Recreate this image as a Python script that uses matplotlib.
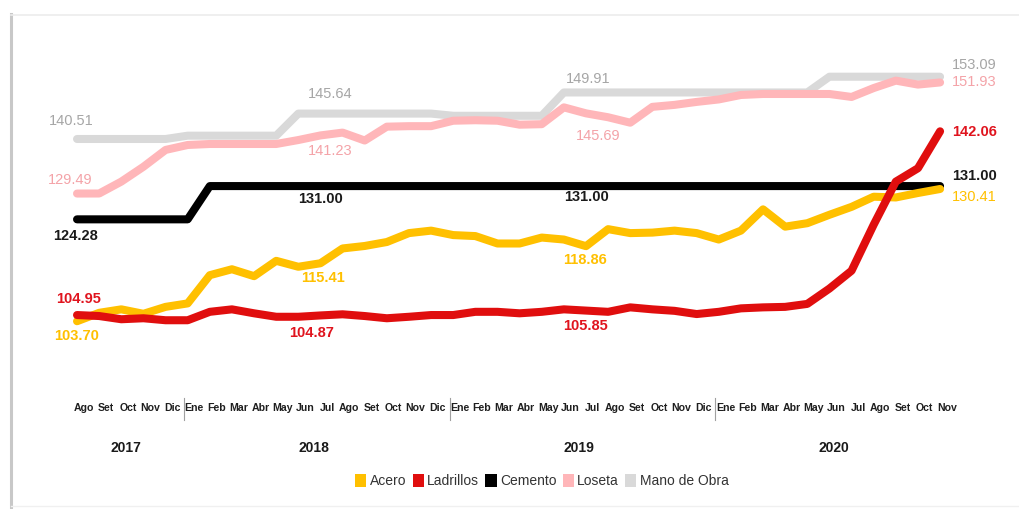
import matplotlib
matplotlib.use("Agg")
import matplotlib.pyplot as plt
from matplotlib import font_manager
from matplotlib.lines import Line2D
from matplotlib.patches import Patch

# ---------------- data ----------------
months = (["Ago", "Set", "Oct", "Nov", "Dic"]
          + ["Ene", "Feb", "Mar", "Abr", "May", "Jun", "Jul", "Ago", "Set", "Oct", "Nov", "Dic"]
          + ["Ene", "Feb", "Mar", "Abr", "May", "Jun", "Jul", "Ago", "Set", "Oct", "Nov", "Dic"]
          + ["Ene", "Feb", "Mar", "Abr", "May", "Jun", "Jul", "Ago", "Set", "Oct", "Nov"])
years = ["2017", "2018", "2019", "2020"]
months_per_year = [5, 12, 12, 11]

acero = [103.70, 105.4, 106.1, 105.2, 106.6, 107.3, 113.0, 114.2, 112.8, 115.9,
         114.7, 115.41, 118.4, 118.9, 119.7, 121.5, 122.0, 121.1, 120.9, 119.4,
         119.4, 120.6, 120.2, 118.86, 122.3, 121.5, 121.6, 122.0, 121.5, 120.2,
         122.0, 126.3, 122.8, 123.5, 125.2, 126.8, 128.85, 128.7, 129.6, 130.41]
ladrillos = [104.95, 104.75, 104.1, 104.3, 103.9, 103.9, 105.6, 106.1, 105.3, 104.6,
             104.6, 104.87, 105.1, 104.75, 104.3, 104.6, 104.95, 104.95, 105.6, 105.6,
             105.3, 105.6, 106.1, 105.85, 105.6, 106.5, 106.1, 105.8, 105.15, 105.6,
             106.3, 106.5, 106.6, 107.2, 110.3, 113.9, 123.2, 131.9, 134.6, 142.06]
cemento = [124.28] * 6 + [131.00] * 34
loseta = [129.49, 129.5, 131.9, 134.9, 138.3, 139.3, 139.5, 139.5, 139.5, 139.5,
          140.3, 141.23, 141.8, 140.2, 143.0, 143.1, 143.1, 144.2, 144.3, 144.2,
          143.4, 143.5, 146.9, 145.69, 144.9, 143.8, 147.0, 147.4, 148.0, 148.5,
          149.4, 149.6, 149.6, 149.6, 149.6, 149.0, 150.8, 152.3, 151.5, 151.93]
mano_obra = ([140.51] * 5 + [141.18] * 5 + [145.64] * 7 + [145.2] * 5
             + [149.91] * 12 + [153.09] * 6)

series_names = ["Acero", "Ladrillos", "Cemento", "Loseta", "Mano de Obra"]
colors = {"Acero": "#FFC000", "Ladrillos": "#E00E0E", "Cemento": "#000000",
          "Loseta": "#FFB6B9", "Mano de Obra": "#D9D9D9"}
label_colors = {"Acero": "#FFC000", "Ladrillos": "#E0141E", "Cemento": "#1a1a1a",
                "Loseta": "#F4A3A8", "Mano de Obra": "#A6A6A6"}
series = {"Acero": acero, "Ladrillos": ladrillos, "Cemento": cemento,
          "Loseta": loseta, "Mano de Obra": mano_obra}

# ---------------- fonts ----------------
def pick(names):
    for n in names:
        try:
            font_manager.findfont(n, fallback_to_default=False)
            return n
        except Exception:
            pass
    return "DejaVu Sans"

FAM = pick(["Liberation Sans Narrow", "Liberation Sans", "Arial"])
plt.rcParams["font.family"] = [FAM, "DejaVu Sans"]

# ---------------- figure ----------------
W, H = 1020, 509
fig = plt.figure(figsize=(W / 100, H / 100), dpi=100)
fig.patch.set_facecolor("white")

ax = fig.add_axes([54.9 / W, 1 - 364.3 / H, (962.2 - 54.9) / W, (364.3 - 42.5) / H])
ax.set_xlim(-1, 40)
ax.set_ylim(95, 160)
ax.axis("off")

x = list(range(len(months)))
order = ["Mano de Obra", "Loseta", "Cemento", "Acero", "Ladrillos"]
for name in order:
    ax.plot(x, series[name], color=colors[name], lw=5.8,
            solid_capstyle="round", solid_joinstyle="round", zorder=3)

# ---------------- value labels ----------------
labels = [
    ("Mano de Obra", 0, -6, 18, "center", False),
    ("Loseta", 0, -7, 14, "center", False),
    ("Cemento", 0, -2, -17, "center", True),
    ("Ladrillos", 0, 2, 16, "center", True),
    ("Acero", 0, 0, -15, "center", True),
    ("Mano de Obra", 11, 10, 20, "center", False),
    ("Loseta", 11, 10, -16, "center", False),
    ("Cemento", 11, 0, -13, "center", True),
    ("Acero", 11, 3, -15, "center", True),
    ("Ladrillos", 11, -9, -18, "center", True),
    ("Mano de Obra", 23, 2, 13, "center", False),
    ("Loseta", 23, 12, -23, "center", False),
    ("Cemento", 23, 0, -11, "center", True),
    ("Acero", 23, -1, -14, "center", True),
    ("Ladrillos", 23, -1, -15, "center", True),
    ("Mano de Obra", 39, 12, 12, "left", False),
    ("Loseta", 39, 12, 0, "left", False),
    ("Ladrillos", 39, 12, -1, "left", True),
    ("Cemento", 39, 12, 10, "left", True),
    ("Acero", 39, 12, -8, "left", False),
]
for name, i, dx, dy, ha, bold in labels:
    v = series[name][i]
    ax.annotate(f"{v:.2f}", (i, v), xytext=(dx * 0.72, dy * 0.72),
                textcoords="offset points", ha=ha, va="center",
                fontsize=10.5, color=label_colors[name],
                fontweight="bold" if bold else "normal", zorder=5)

# ---------------- month / year axis ----------------
tr = ax.get_xaxis_transform()
ax_h = 364.3 - 42.5
def yfrac(ypx):
    return (364.3 - ypx) / ax_h

for i, m in enumerate(months):
    ax.text(i + 0.3, yfrac(408), m, transform=tr, ha="center", va="center",
            fontsize=7.6, fontweight="bold", color="#1f1f1f", clip_on=False)

start = 0
for k, (yr, n) in enumerate(zip(years, months_per_year)):
    center = start + (n - 1) / 2
    ax.text(center + 0.2, yfrac(448), yr, transform=tr, ha="center", va="center",
            fontsize=10, fontweight="bold", color="#1a1a1a", clip_on=False)
    if k > 0:
        sx = start - 0.5 + 0.35
        ax.plot([sx, sx], [yfrac(398), yfrac(420)], transform=tr, color="#a0a0a0",
                lw=0.8, clip_on=False)
    start += n

# ---------------- legend ----------------
handles = [Patch(facecolor=colors[n], edgecolor="none") for n in series_names]
fig.legend(handles, series_names, loc="center", bbox_to_anchor=(542 / W, 1 - 481 / H),
           ncol=5, frameon=False, fontsize=10, handlelength=0.8, handleheight=1.1,
           handletextpad=0.25, columnspacing=0.45, labelcolor="#333333")

# ---------------- frame (screenshot border) ----------------
fig.add_artist(Line2D([11.5 / W, 11.5 / W], [0, 1 - 14 / H], color="#c8c8c8", lw=2.2,
                      transform=fig.transFigure))
fig.add_artist(Line2D([11.5 / W, 1], [1 - 15 / H, 1 - 15 / H], color="#ececec", lw=1.2,
                      transform=fig.transFigure))
fig.add_artist(Line2D([11.5 / W, 1], [1 - 506 / H, 1 - 506 / H], color="#f0f0f0", lw=1.0,
                      transform=fig.transFigure))

fig.savefig("out.png", dpi=100, facecolor="white")
